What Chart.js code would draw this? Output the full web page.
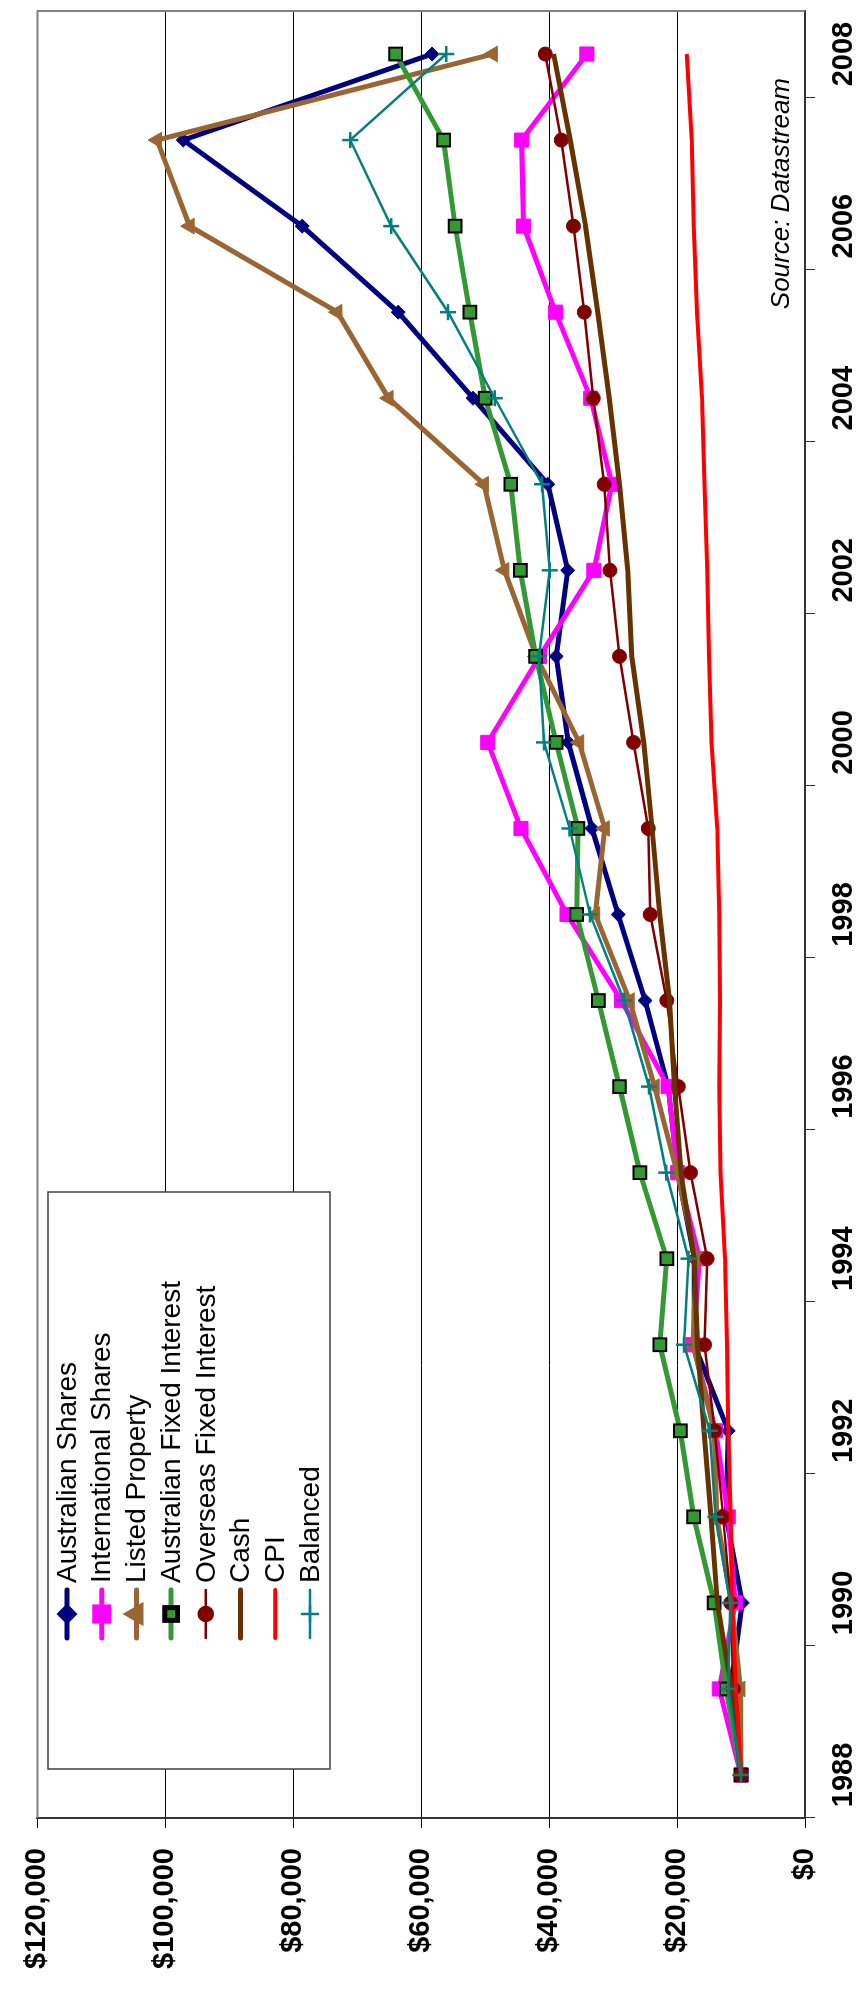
<!DOCTYPE html>
<html>
<head>
<meta charset="utf-8">
<title>Growth of $10,000</title>
<script src="https://cdn.jsdelivr.net/npm/chart.js@4.4.1/dist/chart.umd.min.js"></script>
<style>
  html, body { margin: 0; padding: 0; background: #fff; overflow: hidden; }
  #page { position: relative; width: 866px; height: 1989px; }
  /* the chart is drawn landscape and turned a quarter left, like the original */
  #chart {
    position: absolute; left: 0; top: 0;
    transform-origin: 0 0;
    transform: translate(0px, 1989px) rotate(-90deg);
  }
</style>
</head>
<body>
<div id="page">
  <canvas id="chart" width="1989" height="866"></canvas>
</div>
<script>
// value of $10,000 invested in 1988
var years = ["1988", "1989", "1990", "1991", "1992", "1993", "1994", "1995", "1996", "1997", "1998",
             "1999", "2000", "2001", "2002", "2003", "2004", "2005", "2006", "2007", "2008"];

var australianShares = [10000, 11600, 9800, 12300, 12000, 17300, 17300, 19900, 21400, 25000, 29200,
                        33300, 37000, 38900, 37100, 40200, 51900, 63600, 78600, 97200, 58300];
var internationalShares = [10000, 13400, 10900, 12000, 14000, 17500, 16500, 19900, 21400, 28700, 37200,
                           44400, 49600, 41500, 33000, 30200, 33500, 39000, 44000, 44300, 34100];
var listedProperty = [10000, 10100, 11500, 13800, 14200, 17500, 17000, 20000, 23500, 27400, 32800,
                      31300, 35300, 42000, 47000, 50200, 65100, 73100, 96200, 101300, 48800];
var australianFixed = [10000, 12300, 14200, 17400, 19500, 22700, 21600, 25800, 29000, 32300, 35700,
                       35500, 38900, 42100, 44500, 46000, 50000, 52400, 54700, 56500, 64000];
var overseasFixed = [10000, 11200, 11600, 12800, 14100, 15700, 15300, 17900, 19800, 21600, 24200,
                     24500, 26800, 29000, 30500, 31400, 33100, 34500, 36200, 38100, 40600];
var cash = [10000, 11500, 13700, 14700, 15800, 16800, 17300, 19400, 20400, 21200, 22700,
            23900, 25200, 27100, 27700, 29000, 30600, 32400, 34300, 36700, 39300];
var cpi = [10000, 10800, 11400, 11600, 12000, 12200, 12500, 13200, 13400, 13300, 13400,
           13700, 14600, 15000, 15300, 15700, 16100, 16900, 17400, 17700, 18500];
var balanced = [10000, 12000, 11700, 14000, 14900, 18900, 18200, 21700, 24400, 28300, 33600,
                36800, 40800, 41600, 39900, 41100, 48500, 55800, 64700, 71100, 56100];

var valueTicks = [0, 20000, 40000, 60000, 80000, 100000, 120000];

var FONT = "'Liberation Sans', Arial, sans-serif";


function makeSeries(label, data, color, width, style, radius, fill, border, order) {
    return {
        label: label,
        data: data,
        borderColor: color,
        backgroundColor: color,
        borderWidth: width,
        pointStyle: style,
        pointRadius: style ? radius : 0,
        pointBackgroundColor: fill || color,
        pointBorderColor: border || color,
        pointBorderWidth: border ? 2 : 1,
        tension: 0,
        order: order
    };
}

// Excel paints the last series on top, Chart.js paints the lowest order on top
var datasets = [
    makeSeries("Australian Shares", australianShares, "#000080", 5, "rectRot", 7, null, null, 7),
    makeSeries("International Shares", internationalShares, "#ff00ff", 5, "rect", 10, null, null, 6),
    makeSeries("Listed Property", listedProperty, "#996633", 5, "triangle", 9, null, null, 5),
    makeSeries("Australian Fixed Interest", australianFixed, "#339933", 5, "rect", 9, "#339933", "#000000", 4),
    makeSeries("Overseas Fixed Interest", overseasFixed, "#800000", 2.5, "circle", 7, null, null, 3),
    makeSeries("Cash", cash, "#663300", 5, false, 0, null, null, 2),
    makeSeries("CPI", cpi, "#ff0000", 4, false, 0, null, null, 1),
    makeSeries("Balanced", balanced, "#008080", 2.5, "cross", 8, null, null, 0)
];
datasets[7].pointBorderWidth = 2.5;


// draws a marker for the legend, same shapes as the data points
function legendMarker(ctx, ds, x, y) {
    if (!ds.pointStyle)
        return;
    ctx.save();
    ctx.fillStyle = ds.pointBackgroundColor;
    ctx.strokeStyle = ds.pointBorderColor;
    Chart.helpers.drawPoint(ctx, {
        pointStyle: ds.pointStyle,
        radius: ds.pointRadius,
        rotation: 0,
        borderWidth: ds.pointBorderWidth
    }, x, y);
    ctx.restore();
}


var framePlugin = {
    id: "frame",
    afterDraw: function (chart) {
        var ctx = chart.ctx;
        var a = chart.chartArea;
        ctx.save();

        // grey frame on the two sides that have no axis
        ctx.strokeStyle = "#808080";
        ctx.lineWidth = 2;
        ctx.beginPath();
        ctx.moveTo(a.left, a.top);
        ctx.lineTo(a.right, a.top);
        ctx.lineTo(a.right, a.bottom);
        ctx.stroke();

        // legend box sits inside the plot, top left
        var box = { left: 220, top: 48, width: 577, height: 282 };
        ctx.fillStyle = "#ffffff";
        ctx.fillRect(box.left, box.top, box.width, box.height);
        ctx.strokeStyle = "#404040";
        ctx.lineWidth = 1.5;
        ctx.strokeRect(box.left, box.top, box.width, box.height);

        ctx.font = "28px " + FONT;
        ctx.textBaseline = "middle";
        ctx.textAlign = "left";
        var sets = chart.data.datasets;
        for (var i = 0; i < sets.length; i++) {
            var y = box.top + 19 + i * 34.7;
            ctx.strokeStyle = sets[i].borderColor;
            ctx.lineWidth = sets[i].borderWidth;
            ctx.lineCap = "round";
            ctx.beginPath();
            ctx.moveTo(351, y);
            ctx.lineTo(399, y);
            ctx.stroke();
            legendMarker(ctx, sets[i], 375, y);
            ctx.fillStyle = "#000000";
            ctx.fillText(sets[i].label, 406, y + 1);
        }

        ctx.font = "italic 26px " + FONT;
        ctx.textAlign = "right";
        ctx.textBaseline = "alphabetic";
        ctx.fillStyle = "#000000";
        ctx.fillText("Source: Datastream", 1911, 789);
        ctx.restore();
    }
};


function initChart() {
    Chart.defaults.font.family = FONT;
    Chart.defaults.color = "#000000";

    new Chart(document.getElementById("chart"), {
        type: "line",
        data: { labels: years, datasets: datasets },
        plugins: [framePlugin],
        options: {
            responsive: false,
            animation: false,
            devicePixelRatio: 1,
            layout: { padding: { top: 25, right: 5, left: 0, bottom: 0 } },
            plugins: {
                legend: { display: false },
                tooltip: { enabled: false }
            },
            scales: {
                x: {
                    type: "category",
                    offset: true,
                    afterFit: function (scale) { scale.height = 61; },
                    border: { display: true, color: "#333333", width: 2 },
                    grid: {
                        offset: true,
                        drawOnChartArea: false,
                        drawTicks: true,
                        tickLength: 10,
                        color: function (c) { return c.index % 2 === 0 ? "#333333" : "rgba(0,0,0,0)"; }
                    },
                    ticks: {
                        autoSkip: false,
                        maxRotation: 0,
                        padding: 12,
                        font: { size: 29, weight: "bold" },
                        callback: function (v, i) { return i % 2 === 0 ? years[i] : ""; }
                    }
                },
                y: {
                    min: valueTicks[0],
                    max: valueTicks[valueTicks.length - 1],
                    afterFit: function (scale) { scale.width = 171; },
                    afterBuildTicks: function (scale) {
                        scale.ticks = valueTicks.map(function (v) { return { value: v }; });
                    },
                    border: { display: true, color: "#333333", width: 2 },
                    grid: { color: "#000000", lineWidth: 1, tickLength: 10 },
                    ticks: {
                        padding: 20,
                        font: { size: 29, weight: "bold" },
                        callback: function (v) { return "$" + v.toLocaleString("en-US"); }
                    }
                }
            }
        }
    });
}

initChart();
</script>
</body>
</html>
